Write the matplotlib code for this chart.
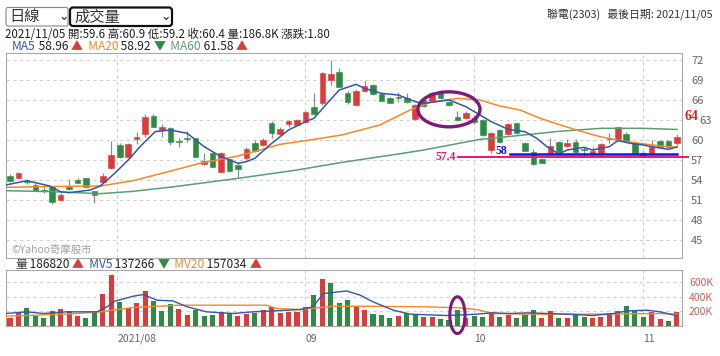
import matplotlib
matplotlib.use("Agg")
import matplotlib.pyplot as plt
from matplotlib.patches import Ellipse, FancyBboxPatch
from matplotlib.transforms import ScaledTranslation
import numpy as np

plt.rcParams['font.family'] = ['Noto Sans CJK TC', 'DejaVu Sans']

# ---- daily candles (index 0 = mid July 2021, last = 2021/11/05) ----
opens = [54.65, 54.25, 53.85, 53.3, 52.4, 52.9, 51.0, 53.0, 54.0, 54.25,
         52.35, 53.7, 55.75, 59.25, 57.5, 60.1, 60.9, 63.6, 61.5, 61.8,
         59.8, 60.2, 60.25, 56.35, 58.0, 55.25, 57.1, 56.25, 57.35, 59.6,
         59.25, 62.5, 60.85, 62.4, 62.25, 62.75, 65.0, 65.5, 69.0, 70.15,
         67.1, 65.25, 67.35, 68.25, 66.85, 66.25, 66.4, 66.25, 63.1, 66.0,
         65.9, 67.4, 65.75, 63.5, 63.25, 63.35, 63.0, 58.5, 61.5, 60.9,
         62.5, 59.5, 58.25, 57.1, 58.1, 59.7, 59.1, 59.7, 58.55, 58.0,
         58.1, 60.2, 60.1, 60.85, 59.6, 58.1, 58.1, 59.9, 59.85, 59.6]
closes = [53.85, 55.1, 53.75, 52.4, 52.35, 50.75, 51.8, 52.6, 53.6, 53.0,
          51.75, 54.6, 57.75, 57.5, 59.35, 60.5, 63.4, 62.0, 61.9, 59.75,
          59.75, 60.15, 57.5, 56.85, 56.0, 58.0, 55.35, 55.65, 58.6, 58.35,
          59.95, 61.0, 61.65, 62.8, 63.0, 64.15, 63.85, 70.0, 69.85, 68.0,
          65.65, 67.4, 68.1, 66.9, 65.9, 65.6, 66.3, 65.65, 65.25, 65.15,
          67.0, 66.25, 65.25, 63.0, 64.1, 62.75, 60.75, 61.0, 59.75, 62.4,
          61.0, 58.4, 56.4, 56.6, 59.1, 58.25, 59.6, 58.25, 58.5, 58.35,
          59.35, 60.15, 61.9, 59.9, 58.1, 57.5, 59.0, 59.0, 59.0, 60.4]
highs = [54.9, 55.25, 54.1, 53.6, 53.1, 53.1, 52.0, 54.1, 54.3, 54.3,
         52.4, 55.0, 59.85, 59.5, 59.5, 61.2, 63.85, 63.9, 62.4, 62.0,
         60.25, 61.3, 60.3, 58.0, 58.1, 58.2, 57.3, 56.5, 58.9, 60.0,
         60.3, 62.9, 61.9, 63.0, 63.2, 64.4, 67.0, 70.2, 72.0, 70.75,
         67.3, 67.6, 69.0, 68.4, 67.0, 66.4, 67.25, 67.0, 65.4, 66.2,
         67.2, 67.5, 65.9, 64.3, 64.3, 63.75, 63.1, 61.2, 61.7, 62.6,
         62.6, 59.7, 58.7, 57.3, 60.25, 59.9, 60.1, 60.1, 59.0, 58.9,
         59.5, 61.0, 62.0, 61.2, 59.7, 58.4, 60.0, 60.0, 60.0, 60.9]
lows = [53.7, 54.2, 53.4, 52.35, 52.0, 50.4, 50.9, 52.5, 53.5, 52.9,
        50.5, 53.6, 55.6, 57.3, 57.4, 59.4, 60.4, 61.9, 60.5, 59.3,
        59.0, 59.75, 57.4, 56.3, 55.9, 55.1, 55.2, 54.5, 57.0, 58.2,
        59.1, 60.3, 60.7, 62.0, 62.1, 62.6, 63.7, 65.3, 68.25, 67.9,
        65.4, 65.1, 67.2, 66.7, 65.8, 65.5, 65.75, 65.5, 63.0, 65.0,
        65.8, 66.1, 65.1, 62.9, 63.1, 62.4, 60.6, 58.1, 59.6, 60.8,
        60.9, 58.3, 56.2, 56.5, 57.9, 58.1, 58.9, 58.1, 57.5, 57.5,
        57.5, 59.5, 60.0, 59.8, 58.0, 57.4, 58.0, 58.9, 58.9, 59.2]

# volume in thousands, colour flag 1 = up (red), 0 = down (green)
volume = [108, 168, 251, 131, 99, 200, 232, 200, 131, 108,
          191, 434, 697, 329, 251, 315, 480, 342, 200, 306,
          232, 154, 223, 135, 145, 182, 168, 131, 159, 168,
          223, 260, 168, 191, 182, 260, 421, 651, 590, 320,
          361, 273, 214, 159, 154, 99, 131, 168, 154, 113,
          121, 90, 76, 214, 108, 131, 121, 186, 121, 154,
          108, 145, 223, 108, 204, 108, 99, 145, 121, 99,
          113, 177, 200, 269, 223, 121, 186, 86, 62, 187]
vol_up = [1, 1, 0, 0, 0, 0, 1, 1, 1, 0,
          0, 1, 1, 0, 1, 1, 1, 0, 0, 0,
          1, 1, 0, 0, 0, 1, 0, 1, 1, 0,
          1, 1, 1, 1, 1, 1, 0, 1, 0, 0,
          0, 1, 1, 0, 0, 0, 1, 0, 0, 1,
          1, 0, 0, 0, 1, 0, 0, 1, 0, 1,
          0, 0, 0, 1, 1, 0, 1, 0, 0, 1,
          1, 1, 1, 0, 0, 0, 1, 1, 0, 1]

# moving averages (index, value)
ma5_idx = [-0.5, 2, 4.7, 6, 7, 9.5, 10.7, 12.4, 14.2, 15.4, 17.2, 19, 21, 23, 25,
           27, 28, 29, 31, 33, 35, 36, 37.5, 39, 41, 42, 44, 46, 48, 49, 52, 54,
           56, 57, 59, 61, 62.4, 63.6, 65, 66, 68, 69, 71, 72, 73.5, 75, 76, 78, 79]
ma5_val = [53.25, 53.9, 53.1, 52.25, 52.1, 52.5, 53.1, 55.0, 57.25, 59.0, 61.25,
           61.5, 61.0, 59.0, 57.5, 56.5, 56.75, 57.25, 59.5, 61.5, 62.75, 63.25,
           65.4, 67.5, 68.35, 67.75, 67.0, 66.75, 65.75, 65.5, 66.0, 65.0, 63.5,
           62.75, 61.6, 61.25, 60.25, 59.0, 57.9, 58.5, 58.9, 58.5, 59.0, 59.9,
           59.5, 59.25, 59.0, 58.6, 58.96]
ma20_idx = [-0.5, 3.5, 10.7, 14.6, 19.5, 22.5, 27, 29.6, 32, 35.5, 39.3, 43.8,
            47.4, 49.8, 53, 55.7, 58, 60.4, 62.8, 65.2, 67.5, 69.9, 72.3, 74.6, 77, 79]
ma20_val = [52.9, 53.0, 53.1, 53.9, 55.5, 56.5, 57.6, 58.5, 59.35, 60.0, 60.75,
            62.25, 64.5, 65.65, 66.25, 66.0, 65.1, 64.5, 63.25, 62.25, 61.35,
            60.5, 59.9, 59.5, 59.1, 58.92]
ma60_idx = [-0.5, 5, 10.7, 14.6, 19.5, 27.3, 34, 39.6, 46, 49, 55.7, 57, 60.5,
            65, 70, 75, 79]
ma60_val = [52.4, 52.25, 51.95, 52.3, 53.0, 54.3, 55.5, 56.7, 57.9, 58.5, 60.1,
            60.25, 60.7, 61.3, 61.75, 61.75, 61.58]

mv5_idx = [-0.5, 2, 4, 6.7, 10.3, 11.5, 12.4, 14.6, 15.8, 17.4, 19.3, 21, 23.3,
           26.4, 28.8, 31.2, 34.4, 35.9, 37.1, 38.3, 39.9, 41.5, 43, 45.4, 47.4,
           49.4, 51.8, 55.3, 57.2, 59.2, 61.3, 63.6, 66, 69, 71.5, 73.1, 75.5, 77, 79]
mv5_val = [168, 191, 168, 191, 191, 260, 338, 407, 430, 352, 342, 260, 191, 168,
           191, 204, 223, 260, 444, 460, 480, 421, 329, 214, 159, 150, 140, 159,
           177, 168, 177, 168, 159, 140, 168, 204, 214, 191, 137.3]
mv20_idx = [-0.5, 6.7, 10.7, 14.6, 20, 30.4, 31.6, 34.4, 38.3, 41.5, 49.4, 53.3,
            55.3, 57.2, 61.3, 69, 77, 79]
mv20_val = [131, 159, 191, 251, 283, 283, 237, 223, 269, 269, 260, 246, 223, 168,
            159, 159, 168, 157]

month_pos = [12.7, 35, 55, 75]
month_lab = ['2021/08', '09', '10', '11']
price_ticks = [72, 69, 66, 63, 60, 57, 54, 51, 48, 45]
vol_ticks = [600, 400, 200]

RED = '#DD3B3B'
GREEN = '#2E8B45'
C_MA5 = '#3557A5'
C_MA20 = '#F08A2C'
C_MA60 = '#5C9E72'
GRID = '#d2d2d2'

fig = plt.figure(figsize=(7.2, 3.56), dpi=100)
W, H = 720, 356

def ax_rect(x0, y0, x1, y1):
    return [x0 / W, 1 - y1 / H, (x1 - x0) / W, (y1 - y0) / H]

ax = fig.add_axes(ax_rect(6, 53, 682, 258))
axv = fig.add_axes(ax_rect(6, 270, 682, 326))

x = np.arange(len(opens))
o = np.array(opens); c = np.array(closes)
up = c >= o
col = [RED if u else GREEN for u in up]

# wicks then bodies
ax.vlines(x, lows, highs, color='#8c8c8c', lw=0.9, zorder=2)
body_h = np.maximum(np.abs(c - o), 0.08)
ax.bar(x, body_h, bottom=np.minimum(o, c), width=0.66, color=col,
       edgecolor=col, lw=0.4, zorder=3)

ax.plot(ma60_idx, ma60_val, color=C_MA60, lw=1.1, zorder=4)
ax.plot(ma20_idx, ma20_val, color=C_MA20, lw=1.1, zorder=4)
ax.plot(ma5_idx, ma5_val, color=C_MA5, lw=1.1, zorder=5)

ax.set_xlim(-0.47, 79.6)
ax.set_ylim(42.3, 73.05)
ax.set_yticks(price_ticks)
ax.yaxis.tick_right()
ax.tick_params(axis='y', length=0, pad=6.5, labelsize=8, labelcolor='#666666')
ax.set_xticks(month_pos)
ax.tick_params(axis='x', length=0, labelbottom=False)
ax.grid(True, color=GRID, ls=(0, (3, 3)), lw=0.8)
ax.set_axisbelow(True)
for s in ax.spines.values():
    s.set_color('#a8a8a8')
# the "63" label sits a little to the right, next to the red 64 note
for lab in ax.get_yticklabels():
    if lab.get_text() == '63':
        lab.set_transform(lab.get_transform() + ScaledTranslation(6 / 72, 0, fig.dpi_scale_trans))

# annotations
ax.add_patch(Ellipse((52, 64.6), 7.35, 5.25, fill=False, ec='#7B1C7D', lw=2.4, zorder=6))
ax.plot([53.1, 80.3], [57.4, 57.4], color='#E8196B', lw=1.4, clip_on=False, zorder=6)
ax.text(52.8, 57.45, '57.4', color='#E8196B', fontsize=8.5, fontweight='bold',
        family='Liberation Serif', ha='right', va='center')
ax.plot([59.2, 79], [57.95, 57.95], color='#1414E6', lw=1.8, zorder=6)
ax.text(58.9, 58.35, '58', color='#1414E6', fontsize=8.5, fontweight='bold',
        family='Liberation Serif', ha='right', va='center')
ax.text(79.85, 63.5, '64', color='#E02020', fontsize=10, fontweight='bold',
        family='Liberation Serif', ha='left', va='center', clip_on=False)
ax.text(0.008, 0.015, '©Yahoo奇摩股市', transform=ax.transAxes, fontsize=7.5,
        color='#a0a0a0', ha='left', va='bottom')

# volume panel
vcol = [RED if u else GREEN for u in vol_up]
axv.bar(x, volume, width=0.6, color=vcol, zorder=3)
axv.plot(mv20_idx, mv20_val, color=C_MA20, lw=1.0, zorder=4)
axv.plot(mv5_idx, mv5_val, color=C_MA5, lw=1.0, zorder=5)
axv.set_xlim(-0.47, 79.6)
axv.set_ylim(-5, 770)
axv.set_yticks(vol_ticks)
axv.set_yticklabels([f'{t}K' for t in vol_ticks])
axv.yaxis.tick_right()
axv.tick_params(axis='y', length=0, pad=5, labelsize=7.5, labelcolor='#C8605A')
axv.set_xticks(month_pos)
axv.set_xticklabels(month_lab, ha='left')
axv.tick_params(axis='x', length=0, pad=5.5, labelsize=7.5, labelcolor='#666666')
axv.grid(True, color=GRID, ls=(0, (3, 3)), lw=0.8)
axv.set_axisbelow(True)
for s in axv.spines.values():
    s.set_color('#a8a8a8')
axv.add_patch(Ellipse((53, 145), 1.8, 510, fill=False, ec='#7B1C7D', lw=2.2,
                      clip_on=False, zorder=6))

# header in pixel coordinates
top = fig.add_axes([0, 0, 1, 1], zorder=-1)
top.set_xlim(0, W); top.set_ylim(H, 0); top.axis('off')
top.add_patch(FancyBboxPatch((6, 7.5), 62, 18.5, boxstyle='round,pad=0,rounding_size=2',
                             fc='white', ec='#888888', lw=0.8))
top.add_patch(FancyBboxPatch((70, 7.5), 102, 18.5, boxstyle='round,pad=0,rounding_size=3',
                             fc='white', ec='#111111', lw=1.6))
top.text(9, 17, '日線', fontsize=11, color='#333333', va='center')
top.text(74, 17, '成交量', fontsize=11, color='#333333', va='center')
top.text(58, 16, '⌄', fontsize=9, color='#222222', va='center', family='DejaVu Sans')
top.text(160, 16, '⌄', fontsize=9, color='#222222', va='center', family='DejaVu Sans')
top.text(5, 35, '2021/11/05 開:59.6 高:60.9 低:59.2 收:60.4 量:186.8K 漲跌:1.80',
         fontsize=8.3, color='#222222', va='center')
top.text(713, 14, '聯電(2303)   最後日期: 2021/11/05', fontsize=7.8, color='#333333',
         va='center', ha='right')

def row(x0, y0, parts, size):
    xx = x0
    r = fig.canvas.get_renderer()
    for s, cc in parts:
        t = top.text(xx, y0, s, fontsize=size, color=cc, va='center')
        bb = t.get_window_extent(renderer=r)
        xx += bb.width

row(12, 47, [('MA5', C_MA5), (' 58.96 ', '#222222'), ('▲', RED),
             ('  MA20', C_MA20), (' 58.92 ', '#222222'), ('▼', GREEN),
             ('  MA60', C_MA60), (' 61.58 ', '#222222'), ('▲', RED)], 8.6)
row(15, 264.5, [('量', '#333333'), (' 186820 ', '#222222'), ('▲', RED),
                ('  MV5', C_MA5), (' 137266 ', '#222222'), ('▼', GREEN),
                ('  MV20', C_MA20), (' 157034 ', '#222222'), ('▲', RED)], 8.6)

fig.savefig('out.png', dpi=100)
